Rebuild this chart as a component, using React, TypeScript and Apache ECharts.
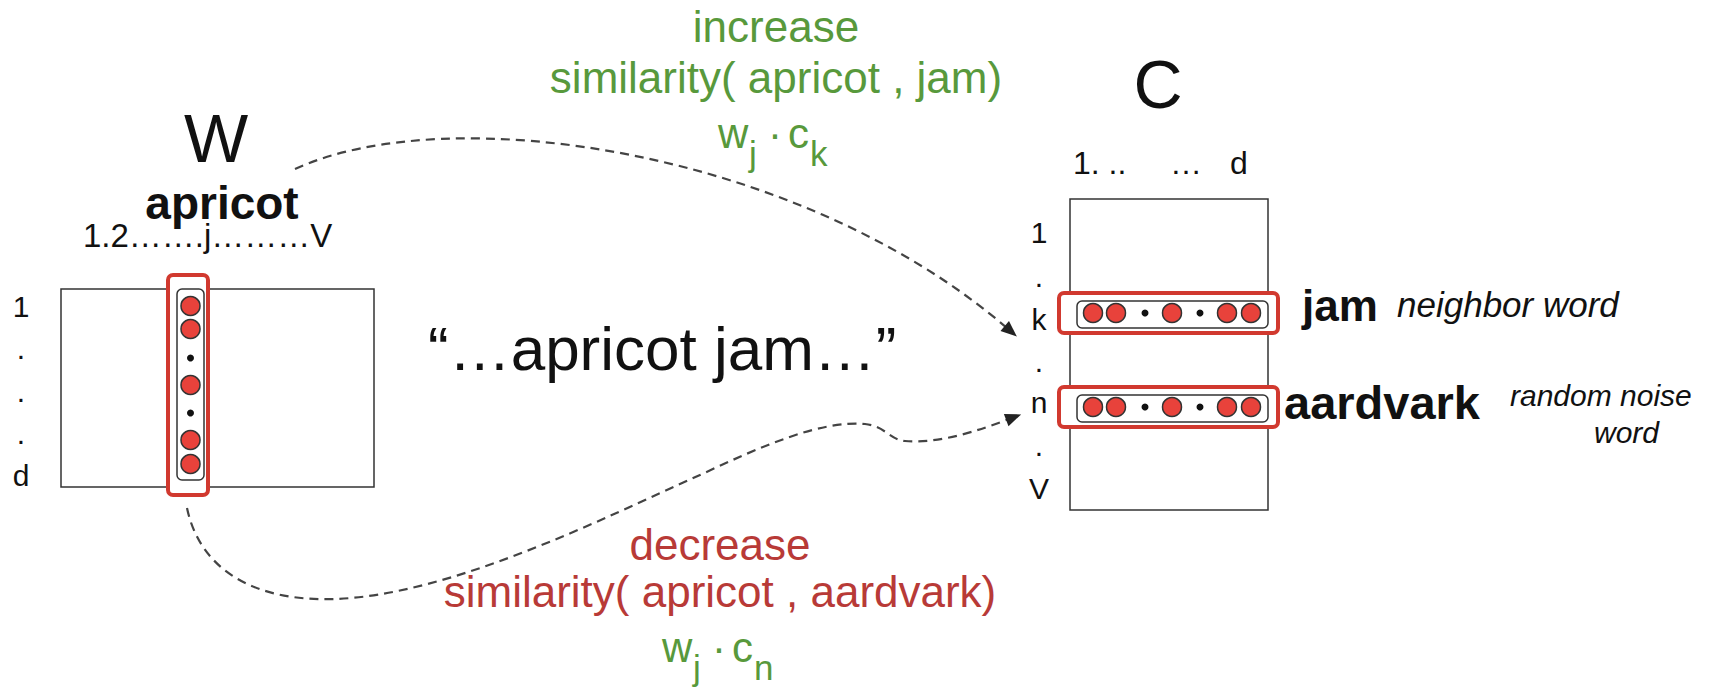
import React, { useEffect, useRef } from "react";
import * as echarts from "echarts";

// ---------- data ----------
const vectorPattern = ["o", "o", ".", "o", ".", "o", "o"]; // o = embedding unit, . = ellipsis dot
const cellOffsets = [0, 23, 52, 79, 107, 134, 158];

const wTitle = "W";
const wWord = "apricot";
const wColumnLabel = "1.2…….j………V";
const wRowLabels = ["1", ".", ".", ".", "d"];

const cTitle = "C";
const cColumnLabels = ["1. ..", "…", "d"];
const cRowLabels = ["1", ".", "k", ".", "n", ".", "V"];

const contextText = "“…apricot jam…”";
const posWord = "jam";
const posNote = "neighbor word";
const negWord = "aardvark";
const negNote = ["random noise", "word"];

const increaseLines = ["increase", "similarity( apricot , jam)"];
const decreaseLines = ["decrease", "similarity( apricot , aardvark)"];
const posDot = ["w", "j", "c", "k"];
const negDot = ["w", "j", "c", "n"];

// ---------- style ----------
const FONT = "'Liberation Sans', Arial, Helvetica, sans-serif";
const GREEN = "#58993c";
const RED_TEXT = "#b83a37";
const RED_BOX = "#d1392f";
const UNIT_RED = "#e8423b";
const INK = "#111111";
const LINE = "#333333";

const TOP_D = "M295,169 C450,98 800,150 1007,328";
const BOT_D =
  "M187,508 C200,570 255,602 335,599 C450,595 600,520 700,475 C760,447 820,420 865,424 C885,426 890,440 905,441 C940,444 980,430 1009,419";

echarts.graphic.registerShape("topCurve", echarts.graphic.extendPath(TOP_D, {}));
echarts.graphic.registerShape("botCurve", echarts.graphic.extendPath(BOT_D, {}));

function txt(
  text: string,
  x: number,
  baseline: number,
  size: number,
  opts: { align?: string; weight?: string; style?: string; fill?: string } = {}
) {
  const align = opts.align || "left";
  return {
    type: "text",
    x,
    y: baseline - size * 0.35,
    z: 5,
    style: {
      text,
      fill: opts.fill || INK,
      fontSize: size,
      fontFamily: FONT,
      fontWeight: opts.weight || "normal",
      fontStyle: opts.style || "normal",
      align,
      textAlign: align,
      verticalAlign: "middle",
      textVerticalAlign: "middle",
    },
  };
}

function arrow(end: [number, number], cp: [number, number], len = 16, half = 6.5) {
  const dx = end[0] - cp[0];
  const dy = end[1] - cp[1];
  const L = Math.hypot(dx, dy);
  const ux = dx / L;
  const uy = dy / L;
  const tip = [end[0] + ux * (len - 3), end[1] + uy * (len - 3)];
  const bx = tip[0] - ux * len;
  const by = tip[1] - uy * len;
  return {
    type: "polygon",
    z: 4,
    shape: {
      points: [
        [tip[0], tip[1]],
        [bx - uy * half, by + ux * half],
        [bx + uy * half, by - ux * half],
      ],
    },
    style: { fill: "#222" },
  };
}

function dotProduct(parts: string[], cx: number, baseline: number, color: string) {
  const big = 42;
  const sub = 35;
  const start = cx - 58;
  return [
    txt(parts[0], start, baseline, big, { fill: color }),
    txt(parts[1], start + 31, baseline + 18, sub, { fill: color }),
    txt("·", start + 50, baseline, big, { fill: color }),
    txt(parts[2], start + 70, baseline, big, { fill: color }),
    txt(parts[3], start + 92, baseline + 18, sub, { fill: color }),
  ];
}

function rrect(x: number, y: number, w: number, h: number, stroke: string, lw: number, r = 0) {
  return {
    type: "rect",
    z: 1,
    shape: { x, y, width: w, height: h, r },
    style: { fill: "#ffffff", stroke, lineWidth: lw },
  };
}

export default function App() {
  const ref = useRef<HTMLDivElement>(null);

  useEffect(() => {
    document.body.style.margin = "0";
    if (!ref.current) return;
    const chart = echarts.init(ref.current, null, { renderer: "svg" });

    const wColX = 190.5;
    const wColY0 = 306;
    const jamY = 313;
    const aardY = 407;
    const cRowX0 = 1093;

    const units: number[][] = [];
    const dots: number[][] = [];
    vectorPattern.forEach((p, i) => {
      const o = cellOffsets[i];
      const target = p === "o" ? units : dots;
      target.push([wColX, wColY0 + o]);
      target.push([cRowX0 + o, jamY]);
      target.push([cRowX0 + o, aardY]);
    });

    const wRowY = [317, 359, 402, 444, 486];
    const cRowY = [243, 287, 330, 372, 413, 456, 499];
    const cColX = [1073, 1170, 1230];

    const graphics: any[] = [
      // W matrix
      rrect(61, 289, 313, 198, LINE, 1.5),
      rrect(168, 275, 40, 220, RED_BOX, 4, 5),
      rrect(177, 289, 27, 191, LINE, 1.5, 5),
      // C matrix
      rrect(1070, 199, 198, 311, LINE, 1.5),
      rrect(1059, 293, 219, 40, RED_BOX, 4, 5),
      rrect(1077, 301, 191, 27, LINE, 1.5, 5),
      rrect(1059, 387, 219, 40, RED_BOX, 4, 5),
      rrect(1077, 395, 191, 27, LINE, 1.5, 5),
      // curves
      {
        type: "topCurve",
        x: 0,
        y: 0,
        scaleX: 1,
        scaleY: 1,
        z: 3,
        style: { fill: "none", stroke: "#444", lineWidth: 2.2, lineDash: [9, 6] },
      },
      {
        type: "botCurve",
        x: 0,
        y: 0,
        scaleX: 1,
        scaleY: 1,
        z: 3,
        style: { fill: "none", stroke: "#444", lineWidth: 2.2, lineDash: [9, 6] },
      },
      arrow([1007, 328], [800, 150]),
      arrow([1009, 419], [980, 430]),
      // W texts
      txt(wTitle, 216, 162, 68, { align: "center" }),
      txt(wWord, 222, 219, 46, { align: "center", weight: "bold" }),
      txt(wColumnLabel, 83, 247, 33),
      ...wRowLabels.map((t, i) => txt(t, 21, wRowY[i], 30, { align: "center" })),
      // C texts
      txt(cTitle, 1158, 108, 68, { align: "center" }),
      ...cColumnLabels.map((t, i) => txt(t, cColX[i], 174, 32)),
      ...cRowLabels.map((t, i) => txt(t, 1039, cRowY[i], 30, { align: "center" })),
      // words
      txt(posWord, 1302, 321, 44, { weight: "bold" }),
      txt(posNote, 1397, 317, 35, { style: "italic" }),
      txt(negWord, 1284, 419, 47, { weight: "bold" }),
      txt(negNote[0], 1510, 406, 30, { style: "italic" }),
      txt(negNote[1], 1594, 443, 30, { style: "italic" }),
      // context
      txt(contextText, 428, 370, 62),
      // increase
      txt(increaseLines[0], 776, 42, 44, { align: "center", fill: GREEN }),
      txt(increaseLines[1], 776, 93, 44, { align: "center", fill: GREEN }),
      ...dotProduct(posDot, 776, 148, GREEN),
      // decrease
      txt(decreaseLines[0], 720, 560, 44, { align: "center", fill: RED_TEXT }),
      txt(decreaseLines[1], 720, 607, 44, { align: "center", fill: RED_TEXT }),
      ...dotProduct(negDot, 720, 662, GREEN),
    ];

    chart.setOption({
      animation: false,
      grid: { left: 0, right: 0, top: 0, bottom: 0 },
      xAxis: { type: "value", min: 0, max: 1728, show: false },
      yAxis: { type: "value", min: 0, max: 691, inverse: true, show: false },
      graphic: { elements: graphics },
      series: [
        {
          type: "scatter",
          z: 10,
          symbol: "circle",
          symbolSize: 19,
          data: units,
          itemStyle: { color: UNIT_RED, borderColor: "#333", borderWidth: 1.5, opacity: 1 },
          silent: true,
        },
        {
          type: "scatter",
          z: 10,
          symbol: "circle",
          symbolSize: 7,
          data: dots,
          itemStyle: { color: "#111", opacity: 1 },
          silent: true,
        },
      ],
    });

    return () => chart.dispose();
  }, []);

  return <div ref={ref} style={{ width: 1728, height: 691, background: "#fff" }} />;
}
